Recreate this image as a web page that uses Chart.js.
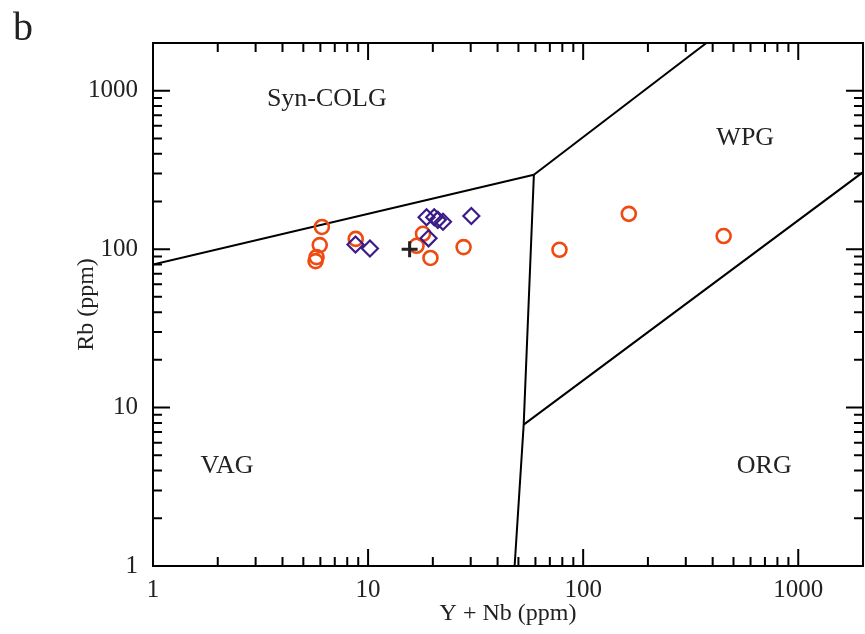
<!DOCTYPE html>
<html><head><meta charset="utf-8">
<script src="https://cdn.jsdelivr.net/npm/chart.js@4/dist/chart.umd.min.js"></script>
<style>html,body{margin:0;padding:0;background:#fff;}</style>
</head><body>
<canvas id="c" width="865" height="634"></canvas>
<script>
// ---- data (ppm) ----
const circleYNb = [6.1, 5.96, 5.76, 5.7, 8.76, 18.0, 16.8, 19.5, 27.8, 163, 77.6, 450];
const circleRb  = [138, 106, 89, 84, 116, 125, 105, 88, 103, 167, 99, 121];
const diamondYNb = [8.74, 10.2, 18.7, 20.3, 21.1, 22.3, 30.2, 19.1];
const diamondRb  = [107, 101, 159, 159, 153, 149, 162, 117];
const crossYNb = [15.6];
const crossRb  = [100];
// field boundaries (Pearce et al. 1984)
const lineVagColgX = [1, 59];     const lineVagColgY = [80, 295];
const lineColgWpgX = [59, 374];   const lineColgWpgY = [295, 2000];
const lineVagWpgX  = [59, 52.9, 48]; const lineVagWpgY = [295, 7.8, 1];
const lineWpgOrgX  = [52.9, 2000]; const lineWpgOrgY = [7.8, 306];
// field labels
const fieldNames = ['Syn-COLG', 'WPG', 'VAG', 'ORG'];
const fieldX = [6.43, 567, 2.21, 695];
const fieldY = [881, 499, 4.24, 4.24];
const majorTicks = [1, 10, 100, 1000];
const axisMin = 1, axisMax = 2000;

const pts = (xs, ys) => xs.map((x, i) => ({x, y: ys[i]}));
const SERIF = "'Liberation Serif', 'Times New Roman', serif";

const lineDs = (xs, ys) => ({type:'line', data: pts(xs, ys), borderColor:'#000', borderWidth:2,
  pointRadius:0, fill:false, tension:0, showLine:true});

const frame = {
  id: 'frame',
  afterDatasetsDraw(chart) {
    const {ctx, chartArea: a, scales: {x, y}} = chart;
    ctx.save();
    ctx.strokeStyle = '#000';
    ctx.lineWidth = 2;
    ctx.strokeRect(a.left, a.top, a.right - a.left, a.bottom - a.top);
    ctx.beginPath();
    for (let d = 1; d <= 1000; d *= 10) {
      for (let m = 1; m <= 9; m++) {
        const v = d * m;
        if (v > axisMax) break;
        const L = m === 1 ? 17 : 9;
        const px = x.getPixelForValue(v), py = y.getPixelForValue(v);
        ctx.moveTo(px, a.bottom); ctx.lineTo(px, a.bottom - L);
        ctx.moveTo(px, a.top); ctx.lineTo(px, a.top + L);
        ctx.moveTo(a.left, py); ctx.lineTo(a.left + L, py);
        ctx.moveTo(a.right, py); ctx.lineTo(a.right - L, py);
      }
    }
    ctx.stroke();
    ctx.fillStyle = '#222';
    ctx.font = '26px ' + SERIF;
    ctx.textAlign = 'center';
    ctx.textBaseline = 'middle';
    fieldNames.forEach((t, i) => ctx.fillText(t, x.getPixelForValue(fieldX[i]), y.getPixelForValue(fieldY[i])));
    ctx.font = '40px ' + SERIF;
    ctx.textBaseline = 'alphabetic';
    ctx.fillText('b', 23, 40);
    ctx.restore();
  }
};

new Chart(document.getElementById('c'), {
  type: 'scatter',
  data: {
    datasets: [
      {data: pts(crossYNb, crossRb), pointStyle:'cross', pointRadius:8, borderColor:'#222', borderWidth:3, backgroundColor:'transparent'},
      {data: pts(diamondYNb, diamondRb), pointStyle:'rectRot', pointRadius:8, borderColor:'#3a1c88', borderWidth:2.2, backgroundColor:'transparent'},
      {data: pts(circleYNb, circleRb), pointStyle:'circle', pointRadius:7, borderColor:'#ee4a12', borderWidth:2.6, backgroundColor:'transparent'},
      lineDs(lineVagColgX, lineVagColgY),
      lineDs(lineColgWpgX, lineColgWpgY),
      lineDs(lineVagWpgX, lineVagWpgY),
      lineDs(lineWpgOrgX, lineWpgOrgY)
    ]
  },
  options: {
    responsive: false,
    animation: false,
    devicePixelRatio: 1,
    layout: {autoPadding: false, padding: {top: 43, right: 2, left: 0, bottom: 0}},
    plugins: {legend: {display: false}, tooltip: {enabled: false}},
    scales: {
      x: {
        type: 'logarithmic', min: axisMin, max: axisMax, position: 'bottom',
        grid: {display: false, drawTicks: false}, border: {display: false},
        ticks: {autoSkip: false, maxRotation: 0, padding: 9, color: '#222',
          font: {family: SERIF, size: 25},
          callback: v => majorTicks.includes(v) ? String(v) : ''},
        title: {display: true, text: 'Y + Nb (ppm)', color: '#222',
          font: {family: SERIF, size: 24}, padding: {top: 0, bottom: 6}},
        afterFit: s => { s.height = 68; s.paddingLeft = 0; s.paddingRight = 0; }
      },
      y: {
        type: 'logarithmic', min: axisMin, max: axisMax, position: 'left',
        grid: {display: false, drawTicks: false}, border: {display: false},
        ticks: {autoSkip: false, padding: 15, color: '#222',
          font: {family: SERIF, size: 25},
          callback: v => majorTicks.includes(v) ? String(v) : ''},
        title: {display: true, text: 'Rb (ppm)', color: '#222',
          font: {family: SERIF, size: 24}, padding: {top: 72, bottom: 0}},
        afterFit: s => { s.width = 153; s.paddingTop = 0; s.paddingBottom = 0; }
      }
    }
  },
  plugins: [frame]
});
</script>
</body></html>
